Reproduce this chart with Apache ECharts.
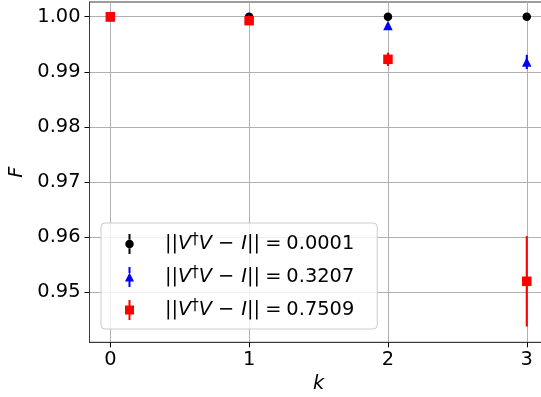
<!DOCTYPE html>
<html>
<head>
<meta charset="utf-8">
<script src="https://cdn.jsdelivr.net/npm/echarts@6/dist/echarts.min.js"></script>
<style>
  html, body { margin: 0; padding: 0; background: #ffffff; }
  #chart { width: 541px; height: 397px; }
</style>
</head>
<body>
<div id="chart"></div>
<script>
// Fidelity F versus step k for three values of the unitarity error ||V†V − I||
const kValues = [0, 1, 2, 3];
const xTicks = [0, 1, 2, 3];
const yTicks = [0.95, 0.96, 0.97, 0.98, 0.99, 1.00];
const normLabels = ['0.0001', '0.3207', '0.7509'];

const fidelityLow = [1.0000, 1.0000, 1.0000, 1.0000];
const errorLow = [0.00005, 0.00005, 0.00005, 0.00005];

const fidelityMid = [1.0000, 0.9997, 0.9984, 0.9918];
const errorMid = [0.00005, 0.0001, 0.0003, 0.0013];

const fidelityHigh = [1.0000, 0.99928, 0.99227, 0.9520];
const errorHigh = [0.00005, 0.0002, 0.0012, 0.0082];

const colors = ['#000000', '#0000ff', '#ff0000'];
const symbols = ['circle', 'triangle', 'rect'];
const symbolSizes = [8.5, 9.5, 9.5];
const legendIcons = [
  'path://M3.5,0h2v6h-2z M3.5,14h2v6h-2z M0.25,10a4.25,4.25 0 1,0 8.5,0a4.25,4.25 0 1,0 -8.5,0z',
  'path://M3.5,0h2v6h-2z M3.5,14h2v6h-2z M4.5,5.5L9,14.5L0,14.5z',
  'path://M3.5,0h2v6h-2z M3.5,14h2v6h-2z M0,5.5h9v9h-9z'
];

const FONT = 'DejaVu Sans';
const FS = 19.4;

function seriesName(i) { return 'norm' + i; }

function errorBarRender(params, api) {
  const x = api.value(0), y = api.value(1), e = api.value(2);
  const top = api.coord([x, y + e]);
  const bot = api.coord([x, y - e]);
  return {
    type: 'line',
    shape: { x1: top[0], y1: top[1], x2: bot[0], y2: bot[1] },
    style: { stroke: api.visual('color'), lineWidth: 2.1 }
  };
}

const groups = [
  [fidelityLow, errorLow],
  [fidelityMid, errorMid],
  [fidelityHigh, errorHigh]
];

const series = [];
groups.forEach(function (g, i) {
  const vals = g[0], errs = g[1];
  series.push({
    name: seriesName(i),
    type: 'custom',
    renderItem: errorBarRender,
    itemStyle: { color: colors[i] },
    encode: { x: 0, y: 1 },
    data: kValues.map(function (k, j) { return [k, vals[j], errs[j]]; }),
    silent: true,
    z: 2 + i * 2
  });
  series.push({
    name: seriesName(i),
    type: 'scatter',
    symbol: symbols[i],
    symbolSize: symbolSizes[i],
    itemStyle: { color: colors[i], opacity: 1 },
    data: kValues.map(function (k, j) { return [k, vals[j]]; }),
    silent: true,
    z: 3 + i * 2
  });
});

const chart = echarts.init(document.getElementById('chart'), null, { renderer: 'canvas' });

chart.setOption({
  animation: false,
  backgroundColor: '#ffffff',
  grid: {
    left: 89.5, top: 2, width: 458.1, height: 340.3,
    outerBoundsMode: 'none', containLabel: false,
    show: true, borderColor: '#3a3a3a', borderWidth: 1, backgroundColor: 'transparent'
  },
  xAxis: {
    type: 'value',
    min: -0.15, max: 3.15,
    name: 'k', nameLocation: 'middle', nameGap: 30,
    nameTextStyle: { fontFamily: FONT, fontStyle: 'italic', fontSize: FS, color: '#000' },
    axisLine: { show: true, onZero: false, lineStyle: { color: '#3a3a3a', width: 1 } },
    axisTick: { show: true, customValues: xTicks, length: 5, lineStyle: { color: '#000', width: 1 } },
    axisLabel: {
      customValues: xTicks, margin: 8,
      fontFamily: FONT, fontSize: FS, color: '#000',
      formatter: function (v) { return String(Math.round(v)); }
    },
    splitLine: { show: true, lineStyle: { color: '#b0b0b0', width: 1 } }
  },
  yAxis: {
    type: 'value',
    min: 0.94093, max: 1.00267,
    name: 'F', nameLocation: 'middle', nameGap: 62, nameRotate: 90,
    nameTextStyle: { fontFamily: FONT, fontStyle: 'italic', fontSize: FS, color: '#000' },
    axisLine: { show: true, onZero: false, lineStyle: { color: '#3a3a3a', width: 1 } },
    axisTick: { show: true, customValues: yTicks, length: 5, lineStyle: { color: '#000', width: 1 } },
    axisLabel: {
      customValues: yTicks, margin: 9,
      fontFamily: FONT, fontSize: FS, color: '#000',
      formatter: function (v) { return v.toFixed(2); }
    },
    splitLine: { show: true, lineStyle: { color: '#b0b0b0', width: 1 } }
  },
  legend: {
    orient: 'vertical',
    left: 101, top: 223,
    padding: [10, 23, 9, 24],
    itemGap: 12,
    itemWidth: 9, itemHeight: 20,
    selectedMode: false,
    backgroundColor: 'rgba(255,255,255,0.8)',
    borderColor: '#cccccc', borderWidth: 1, borderRadius: 4,
    data: normLabels.map(function (lab, i) {
      return { name: seriesName(i), icon: legendIcons[i], itemStyle: { color: colors[i] } };
    }),
    formatter: function (name) {
      const i = Number(name.replace('norm', ''));
      return '{n|||}{i|V}{s|\u2020}{i|V}{m|\u2212}{i|I}{n|||}{e|=}{n|' + normLabels[i] + '}';
    },
    textStyle: {
      padding: [0, 0, 0, 26],
      fontFamily: FONT, fontSize: FS, color: '#000',
      rich: {
        n: { fontFamily: FONT, fontSize: FS, color: '#000', lineHeight: 22 },
        m: { fontFamily: FONT, fontSize: FS, color: '#000', lineHeight: 22, padding: [0, 7, 0, 6] },
        e: { fontFamily: FONT, fontSize: FS, color: '#000', lineHeight: 22, padding: [0, 5, 0, 5] },
        i: { fontFamily: FONT, fontStyle: 'italic', fontSize: FS, color: '#000', lineHeight: 22 },
        s: { fontFamily: FONT, fontSize: 15, color: '#000', verticalAlign: 'top', lineHeight: 12 }
      }
    }
  },
  series: series
});
</script>
</body>
</html>
